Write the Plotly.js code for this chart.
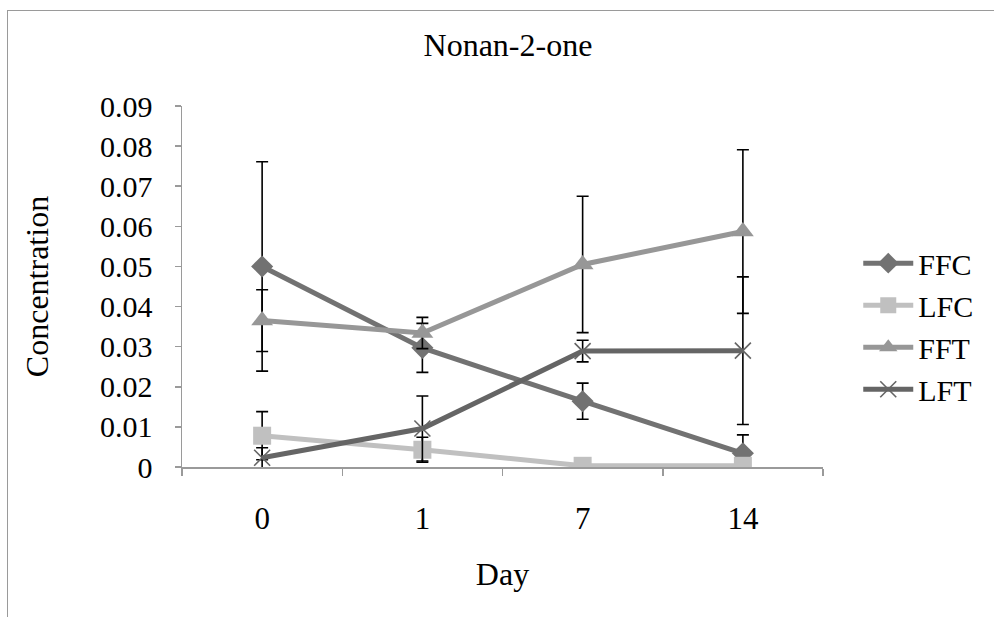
<!DOCTYPE html>
<html>
<head>
<meta charset="utf-8">
<script src="https://cdn.plot.ly/plotly-3.0.1.min.js"></script>
<style>
  html, body { margin: 0; padding: 0; background: #fff; overflow: hidden; }
  #wrap { position: relative; width: 994px; height: 617px; }
  #chart { position: absolute; left: 0; top: 0; width: 994px; height: 617px; }
  #frame { position: absolute; left: 7px; top: 10px; width: 1100px; height: 800px;
           border: 1.5px solid #9a9a9a; box-sizing: border-box; pointer-events: none; }
</style>
</head>
<body>
<div id="wrap">
  <div id="chart"></div>
  <div id="frame"></div>
</div>
<script>
// Sampling days (category axis)
const days = ['0', '1', '7', '14'];

// Mean concentrations per series
const ffc = [0.0500, 0.0297, 0.0164, 0.0034];
const lfc = [0.0078, 0.0043, 0.0003, 0.0003];
const fft = [0.0365, 0.0334, 0.0505, 0.0587];
const lft = [0.0023, 0.0096, 0.0289, 0.0290];

// Error bar half-widths per series
const ffcErr = [0.0261, 0.0061, 0.0045, 0.0046];
const lfcErr = [0.0060, 0.0031, 0.0000, 0.0000];
const fftErr = [0.0077, 0.0039, 0.0170, 0.0204];
const lftErr = [0.0025, 0.0081, 0.0027, 0.0184];

const seriesNames = ['FFC', 'LFC', 'FFT', 'LFT'];

const font = 'Liberation Serif, Times New Roman, serif';

function errBar(arr) {
  return { type: 'data', array: arr, visible: true, color: '#000', thickness: 1.6, width: 6 };
}

const traces = [
  {
    x: days, y: ffc, name: seriesNames[0], type: 'scatter', mode: 'lines+markers',
    line: { color: '#727272', width: 5 },
    marker: { symbol: 'diamond', size: 17, color: '#727272' },
    error_y: errBar(ffcErr)
  },
  {
    x: days, y: lfc, name: seriesNames[1], type: 'scatter', mode: 'lines+markers',
    line: { color: '#c0c0c0', width: 5 },
    marker: { symbol: 'square', size: 18, color: '#c0c0c0' },
    error_y: errBar(lfcErr)
  },
  {
    x: days, y: fft, name: seriesNames[2], type: 'scatter', mode: 'lines+markers',
    line: { color: '#979797', width: 5 },
    marker: { symbol: 'triangle-up', size: 19, color: '#979797' },
    error_y: errBar(fftErr)
  },
  {
    x: days, y: lft, name: seriesNames[3], type: 'scatter', mode: 'lines+markers',
    line: { color: '#656565', width: 5 },
    marker: { symbol: 'x-thin-open', size: 16, color: '#656565', line: { color: '#656565', width: 1.6 } },
    error_y: errBar(lftErr)
  }
];

const layout = {
  width: 994,
  height: 617,
  paper_bgcolor: 'rgba(0,0,0,0)',
  plot_bgcolor: 'rgba(0,0,0,0)',
  margin: { l: 182, r: 171, t: 106, b: 150 },
  font: { family: font, color: '#000' },
  title: {
    text: 'Nonan-2-one',
    font: { family: font, size: 32, color: '#000' },
    x: 0.511, xref: 'container', xanchor: 'center',
    y: 0.927, yref: 'container', yanchor: 'middle'
  },
  xaxis: {
    type: 'category',
    range: [-0.5, 3.5],
    tickson: 'boundaries',
    ticks: 'outside', ticklen: 7, tickwidth: 1.5, tickcolor: '#9a9a9a',
    showline: true, linecolor: '#9a9a9a', linewidth: 1.5,
    showgrid: false, zeroline: false,
    tickfont: { family: font, size: 31, color: '#000' },
    ticklabelstandoff: 23,
    title: { text: 'Day', font: { family: font, size: 32, color: '#000' }, standoff: 28 }
  },
  yaxis: {
    range: [0, 0.09],
    dtick: 0.01,
    ticks: 'outside', ticklen: 6, tickwidth: 1.5, tickcolor: '#9a9a9a',
    showline: true, linecolor: '#9a9a9a', linewidth: 1.5,
    showgrid: false, zeroline: false,
    tickfont: { family: font, size: 30, color: '#000' },
    ticklabelstandoff: 16,
    title: { text: 'Concentration', font: { family: font, size: 32, color: '#000' }, standoff: 42 }
  },
  legend: {
    x: 1.055, xanchor: 'left',
    y: 0.39, yanchor: 'middle',
    font: { family: font, size: 30, color: '#000' },
    itemwidth: 50,
    bgcolor: 'rgba(0,0,0,0)',
    borderwidth: 0
  },
  showlegend: true
};

Plotly.newPlot('chart', traces, layout, { displayModeBar: false, staticPlot: true });
</script>
</body>
</html>
